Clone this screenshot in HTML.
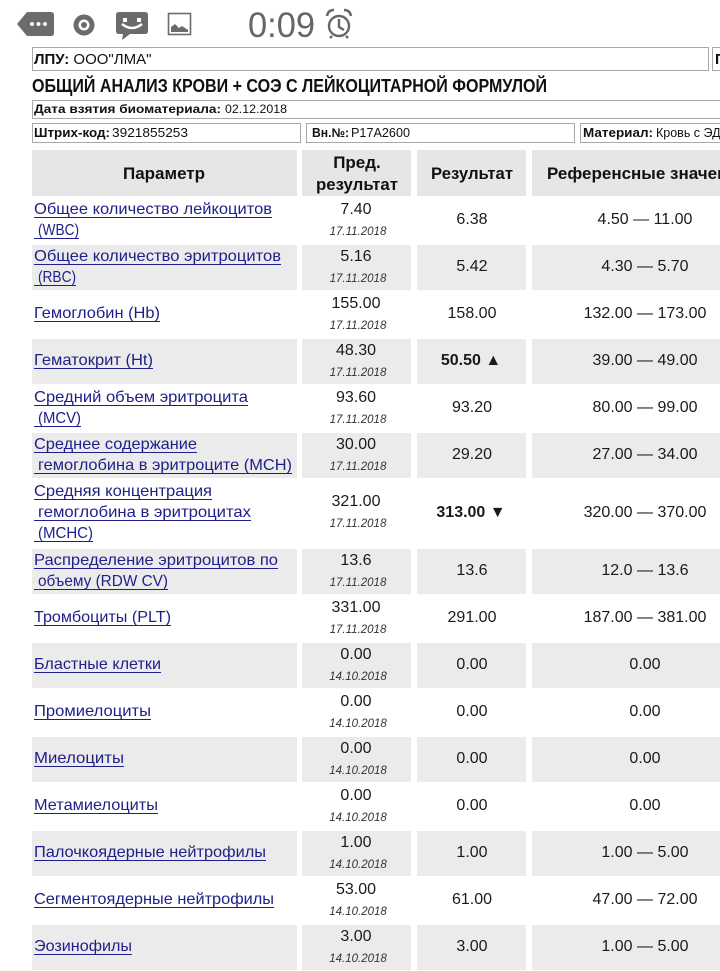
<!DOCTYPE html>
<html><head><meta charset="utf-8"><style>
html,body{margin:0;padding:0;background:#fff;width:720px;height:971px;overflow:hidden}
svg{display:block}
</style></head><body>
<svg width="720" height="971" viewBox="0 0 720 971" xmlns="http://www.w3.org/2000/svg" font-family="'Liberation Sans','DejaVu Sans',sans-serif">
<rect x="0" y="0" width="720" height="971" fill="#fff"/>
<!-- status bar -->
<g fill="#6b6b6b">
<path d="M17,24 L27,12 H51 Q54,12 54,15 V33 Q54,36 51,36 H27 Z"/>
<circle cx="84" cy="25" r="10.5"/>
<path d="M119,12 H145 Q148,12 148,15 V31 Q148,34 145,34 H130 L122,40 L123,34 H119 Q116,34 116,31 V15 Q116,12 119,12 Z"/>
</g>
<g fill="#fff">
<circle cx="32" cy="24" r="2"/><circle cx="38.5" cy="24" r="2"/><circle cx="45" cy="24" r="2"/>
<circle cx="84" cy="25" r="5.5"/>
<rect x="123" y="18" width="4" height="4"/><rect x="137" y="18" width="4" height="4"/>
</g>
<circle cx="84" cy="25" r="3" fill="#6b6b6b"/>
<path d="M122,24 Q132,32 142,24" stroke="#fff" stroke-width="2.5" fill="none"/>
<rect x="168.5" y="13.5" width="22" height="21" fill="none" stroke="#6b6b6b" stroke-width="1.6"/>
<path d="M171,32 L171,27 L175,24 L179,28 L182,26 L188,30 L188,32 Z" fill="#6b6b6b"/>
<text x="248" y="37" font-size="35" fill="#666" textLength="67" lengthAdjust="spacingAndGlyphs">0:09</text>
<g stroke="#666" fill="none" stroke-width="2.4">
<circle cx="339" cy="26" r="10"/>
<path d="M327,16 Q328,10 334,10"/><path d="M351,16 Q350,10 344,10"/>
<path d="M339,19 V27 L344,30"/>
<path d="M332,36 L330,38"/><path d="M346,36 L348,38"/>
</g>

<!-- info boxes -->
<g fill="none" stroke="#a8a8a8" stroke-width="1">
<rect x="32.5" y="47.5" width="676" height="23"/>
<rect x="712.5" y="47.5" width="40" height="23"/>
<rect x="32.5" y="100.5" width="720" height="18"/>
<rect x="32.5" y="123.5" width="268" height="19"/>
<rect x="306.5" y="123.5" width="268" height="19"/>
<rect x="580.5" y="123.5" width="200" height="19"/>
</g>
<text x="34" y="64" font-size="15" fill="#111"><tspan font-weight="bold">ЛПУ:</tspan> ООО"ЛМА"</text>
<text x="715" y="64" font-size="15" font-weight="bold" fill="#111">П</text>
<text x="32" y="92" font-size="18" font-weight="bold" fill="#111" textLength="515" lengthAdjust="spacingAndGlyphs">ОБЩИЙ АНАЛИЗ КРОВИ + СОЭ С ЛЕЙКОЦИТАРНОЙ ФОРМУЛОЙ</text>
<text x="34" y="113" font-size="12" font-weight="bold" fill="#111" textLength="187" lengthAdjust="spacingAndGlyphs">Дата взятия биоматериала:</text>
<text x="225" y="113" font-size="12" fill="#111" textLength="62" lengthAdjust="spacingAndGlyphs">02.12.2018</text>
<text x="34" y="137" font-size="12.5" font-weight="bold" fill="#111" textLength="76" lengthAdjust="spacingAndGlyphs">Штрих-код:</text>
<text x="112" y="137" font-size="12.5" fill="#111" textLength="76" lengthAdjust="spacingAndGlyphs">3921855253</text>
<text x="312" y="137" font-size="12.5" font-weight="bold" fill="#111" textLength="37" lengthAdjust="spacingAndGlyphs">Вн.№:</text>
<text x="351" y="137" font-size="12.5" fill="#111" textLength="59" lengthAdjust="spacingAndGlyphs">P17A2600</text>
<text x="583" y="137" font-size="12.5" font-weight="bold" fill="#111" textLength="70" lengthAdjust="spacingAndGlyphs">Материал:</text>
<text x="656" y="137" font-size="12.5" fill="#111">Кровь с ЭДТА</text>

<!-- table header -->
<g fill="#e6e6e6">
<rect x="32" y="150" width="265" height="46"/>
<rect x="302" y="150" width="109" height="46"/>
<rect x="417" y="150" width="109" height="46"/>
<rect x="532" y="150" width="226" height="46"/>
</g>
<g font-size="17" font-weight="bold" fill="#111">
<text x="123" y="179" textLength="82" lengthAdjust="spacingAndGlyphs">Параметр</text>
<text x="357" y="168" text-anchor="middle">Пред.</text>
<text x="316" y="190" textLength="82" lengthAdjust="spacingAndGlyphs">результат</text>
<text x="431" y="179" textLength="82" lengthAdjust="spacingAndGlyphs">Результат</text>
<text x="547" y="179">Референсные значения</text>
</g>

<!-- gray row backgrounds -->
<g fill="#ebebeb">
<rect x="32" y="245" width="265" height="45"/><rect x="302" y="245" width="109" height="45"/><rect x="417" y="245" width="109" height="45"/><rect x="532" y="245" width="226" height="45"/>
<rect x="32" y="339" width="265" height="45"/><rect x="302" y="339" width="109" height="45"/><rect x="417" y="339" width="109" height="45"/><rect x="532" y="339" width="226" height="45"/>
<rect x="32" y="433" width="265" height="45"/><rect x="302" y="433" width="109" height="45"/><rect x="417" y="433" width="109" height="45"/><rect x="532" y="433" width="226" height="45"/>
<rect x="32" y="549" width="265" height="45"/><rect x="302" y="549" width="109" height="45"/><rect x="417" y="549" width="109" height="45"/><rect x="532" y="549" width="226" height="45"/>
<rect x="32" y="643" width="265" height="45"/><rect x="302" y="643" width="109" height="45"/><rect x="417" y="643" width="109" height="45"/><rect x="532" y="643" width="226" height="45"/>
<rect x="32" y="737" width="265" height="45"/><rect x="302" y="737" width="109" height="45"/><rect x="417" y="737" width="109" height="45"/><rect x="532" y="737" width="226" height="45"/>
<rect x="32" y="831" width="265" height="45"/><rect x="302" y="831" width="109" height="45"/><rect x="417" y="831" width="109" height="45"/><rect x="532" y="831" width="226" height="45"/>
<rect x="32" y="925" width="265" height="45"/><rect x="302" y="925" width="109" height="45"/><rect x="417" y="925" width="109" height="45"/><rect x="532" y="925" width="226" height="45"/>
</g>

<!-- parameter links -->
<g font-size="16" fill="#20208a" lengthAdjust="spacingAndGlyphs">
<text x="34" y="214" textLength="238" lengthAdjust="spacingAndGlyphs">Общее количество лейкоцитов</text>
<text x="38" y="235" textLength="41" lengthAdjust="spacingAndGlyphs">(WBC)</text>
<text x="34" y="261" textLength="247" lengthAdjust="spacingAndGlyphs">Общее количество эритроцитов</text>
<text x="38" y="282" textLength="38" lengthAdjust="spacingAndGlyphs">(RBC)</text>
<text x="34" y="318" textLength="126" lengthAdjust="spacingAndGlyphs">Гемоглобин (Hb)</text>
<text x="34" y="365" textLength="119" lengthAdjust="spacingAndGlyphs">Гематокрит (Ht)</text>
<text x="34" y="402" textLength="214" lengthAdjust="spacingAndGlyphs">Средний объем эритроцита</text>
<text x="38" y="423" textLength="43" lengthAdjust="spacingAndGlyphs">(MCV)</text>
<text x="34" y="449" textLength="163" lengthAdjust="spacingAndGlyphs">Среднее содержание</text>
<text x="38" y="470" textLength="254" lengthAdjust="spacingAndGlyphs">гемоглобина в эритроците (MCH)</text>
<text x="34" y="496" textLength="178" lengthAdjust="spacingAndGlyphs">Средняя концентрация</text>
<text x="38" y="517" textLength="213" lengthAdjust="spacingAndGlyphs">гемоглобина в эритроцитах</text>
<text x="38" y="538" textLength="55" lengthAdjust="spacingAndGlyphs">(MCHC)</text>
<text x="34" y="565" textLength="244" lengthAdjust="spacingAndGlyphs">Распределение эритроцитов по</text>
<text x="38" y="586" textLength="130" lengthAdjust="spacingAndGlyphs">объему (RDW CV)</text>
<text x="34" y="622" textLength="137" lengthAdjust="spacingAndGlyphs">Тромбоциты (PLT)</text>
<text x="34" y="669" textLength="127" lengthAdjust="spacingAndGlyphs">Бластные клетки</text>
<text x="34" y="716" textLength="117" lengthAdjust="spacingAndGlyphs">Промиелоциты</text>
<text x="34" y="763" textLength="90" lengthAdjust="spacingAndGlyphs">Миелоциты</text>
<text x="34" y="810" textLength="124" lengthAdjust="spacingAndGlyphs">Метамиелоциты</text>
<text x="34" y="857" textLength="232" lengthAdjust="spacingAndGlyphs">Палочкоядерные нейтрофилы</text>
<text x="34" y="904" textLength="240" lengthAdjust="spacingAndGlyphs">Сегментоядерные нейтрофилы</text>
<text x="34" y="951" textLength="98" lengthAdjust="spacingAndGlyphs">Эозинофилы</text>
</g>
<g stroke="#20208a" stroke-width="1">
<line x1="34" y1="217.5" x2="272" y2="217.5"/><line x1="34" y1="238.5" x2="79" y2="238.5"/>
<line x1="34" y1="264.5" x2="281" y2="264.5"/><line x1="34" y1="285.5" x2="76" y2="285.5"/>
<line x1="34" y1="321.5" x2="160" y2="321.5"/>
<line x1="34" y1="368.5" x2="153" y2="368.5"/>
<line x1="34" y1="405.5" x2="248" y2="405.5"/><line x1="34" y1="426.5" x2="81" y2="426.5"/>
<line x1="34" y1="452.5" x2="197" y2="452.5"/><line x1="34" y1="473.5" x2="292" y2="473.5"/>
<line x1="34" y1="499.5" x2="212" y2="499.5"/><line x1="34" y1="520.5" x2="251" y2="520.5"/><line x1="34" y1="541.5" x2="93" y2="541.5"/>
<line x1="34" y1="568.5" x2="278" y2="568.5"/><line x1="34" y1="589.5" x2="168" y2="589.5"/>
<line x1="34" y1="625.5" x2="171" y2="625.5"/>
<line x1="34" y1="672.5" x2="161" y2="672.5"/>
<line x1="34" y1="719.5" x2="151" y2="719.5"/>
<line x1="34" y1="766.5" x2="124" y2="766.5"/>
<line x1="34" y1="813.5" x2="158" y2="813.5"/>
<line x1="34" y1="860.5" x2="266" y2="860.5"/>
<line x1="34" y1="907.5" x2="274" y2="907.5"/>
<line x1="34" y1="954.5" x2="132" y2="954.5"/>
</g>

<!-- previous results -->
<g font-size="16" fill="#1a1a1a" text-anchor="middle">
<text x="356" y="214">7.40</text>
<text x="356" y="261">5.16</text>
<text x="356" y="308">155.00</text>
<text x="356" y="355">48.30</text>
<text x="356" y="402">93.60</text>
<text x="356" y="449">30.00</text>
<text x="356" y="506">321.00</text>
<text x="356" y="565">13.6</text>
<text x="356" y="612">331.00</text>
<text x="356" y="659">0.00</text>
<text x="356" y="706">0.00</text>
<text x="356" y="753">0.00</text>
<text x="356" y="800">0.00</text>
<text x="356" y="847">1.00</text>
<text x="356" y="894">53.00</text>
<text x="356" y="941">3.00</text>
</g>
<g font-size="11.5" font-style="italic" fill="#333" text-anchor="middle">
<text x="358" y="235">17.11.2018</text>
<text x="358" y="282">17.11.2018</text>
<text x="358" y="329">17.11.2018</text>
<text x="358" y="376">17.11.2018</text>
<text x="358" y="423">17.11.2018</text>
<text x="358" y="470">17.11.2018</text>
<text x="358" y="527">17.11.2018</text>
<text x="358" y="586">17.11.2018</text>
<text x="358" y="633">17.11.2018</text>
<text x="358" y="680">14.10.2018</text>
<text x="358" y="727">14.10.2018</text>
<text x="358" y="774">14.10.2018</text>
<text x="358" y="821">14.10.2018</text>
<text x="358" y="868">14.10.2018</text>
<text x="358" y="915">14.10.2018</text>
<text x="358" y="962">14.10.2018</text>
</g>

<!-- results -->
<g font-size="16" fill="#1a1a1a" text-anchor="middle">
<text x="472" y="224">6.38</text>
<text x="472" y="271">5.42</text>
<text x="472" y="318">158.00</text>
<text x="471" y="365" font-weight="bold">50.50 ▲</text>
<text x="472" y="412">93.20</text>
<text x="472" y="459">29.20</text>
<text x="471" y="517" font-weight="bold">313.00 ▼</text>
<text x="472" y="575">13.6</text>
<text x="472" y="622">291.00</text>
<text x="472" y="669">0.00</text>
<text x="472" y="716">0.00</text>
<text x="472" y="763">0.00</text>
<text x="472" y="810">0.00</text>
<text x="472" y="857">1.00</text>
<text x="472" y="904">61.00</text>
<text x="472" y="951">3.00</text>
</g>

<!-- reference values -->
<g font-size="16" fill="#1a1a1a" text-anchor="middle">
<text x="645" y="224">4.50 — 11.00</text>
<text x="645" y="271">4.30 — 5.70</text>
<text x="645" y="318">132.00 — 173.00</text>
<text x="645" y="365">39.00 — 49.00</text>
<text x="645" y="412">80.00 — 99.00</text>
<text x="645" y="459">27.00 — 34.00</text>
<text x="645" y="517">320.00 — 370.00</text>
<text x="645" y="575">12.0 — 13.6</text>
<text x="645" y="622">187.00 — 381.00</text>
<text x="645" y="669">0.00</text>
<text x="645" y="716">0.00</text>
<text x="645" y="763">0.00</text>
<text x="645" y="810">0.00</text>
<text x="645" y="857">1.00 — 5.00</text>
<text x="645" y="904">47.00 — 72.00</text>
<text x="645" y="951">1.00 — 5.00</text>
</g>
</svg>
</body></html>
